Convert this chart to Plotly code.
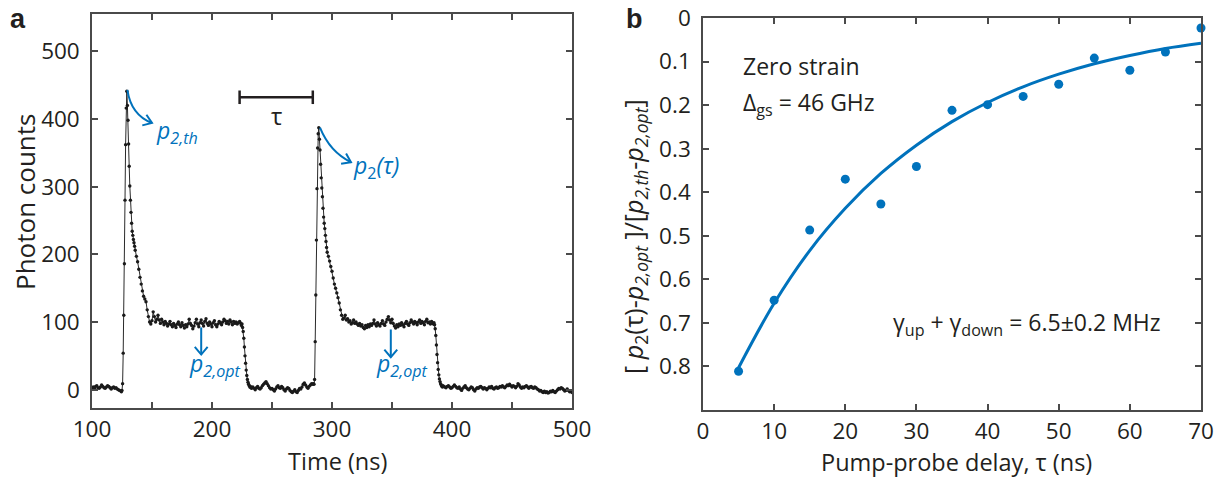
import numpy as np
import plotly.graph_objects as go

W, H = 1217, 478

# ---------------- Panel a data: photon counts vs time (ns) ----------------
# each segment: start time, sampling step, counts
baseline_a_t0, baseline_a_dt = 100.0, 1.0
baseline_a = [3, 4, 2, 5, 6, 3, 2, 4, 7, 5, 3, 2, 4, 6, 5, 3, 1, 3, 4, 2, 3, 1, 0, -1, -2]

rise_a_t0, rise_a_dt = 124.5, 0.5
rise_a = [-3, -1, 9, 54, 110, 186, 280, 362, 416, 441, 420, 398, 363, 330, 301, 280,
          262, 246, 234, 228, 222, 217, 212, 206]

plateau_a_t0, plateau_a_dt = 137.0, 1.0
plateau_a = [197, 189, 178, 166, 156, 146, 138, 134, 130, 118,
             108, 100, 97, 102, 115, 108, 100, 104, 110, 103,
             98, 104, 100, 96, 101, 98, 94, 97, 101, 96,
             93, 98, 95, 92, 97, 100, 96, 93, 99, 95,
             91, 96, 93, 97, 104, 98, 95, 90, 94, 99,
             104, 97, 93, 99, 103, 98, 94, 101, 105, 98,
             95, 100, 97, 93, 99, 102, 96, 93, 97, 101,
             99, 96, 100, 104, 102, 98, 101, 97, 103, 100,
             96, 101, 98, 100, 97, 99, 101, 98]

fall_a_t0, fall_a_dt = 224.5, 0.5
fall_a = [95, 97, 92, 86, 76, 63, 50, 39, 29, 21, 15, 11, 8, 6, 4, 5, 3, 2]

baseline_b_t0, baseline_b_dt = 234.0, 1.0
baseline_b = [4, 2, 0, 3, 5, 2, 1, 3, 6, 8,
              10, 12, 9, 6, 3, 1, 2, 0, -2, 1,
              4, 6, 3, 2, 5, 3, 0, -2, 1, 3,
              2, -1, -3, -4, -2, 0, -3, -4, -1, 2,
              1, 4, 8, 10, 7, 4, 2, 5, 7, 9,
              8]

rise_b_t0, rise_b_dt = 284.5, 0.5
rise_b = [9, 8, 15, 71, 140, 221, 297, 357, 378, 387, 370, 354, 333, 313, 298, 285,
          268, 255, 246, 238, 228, 219, 210, 203]

plateau_b_t0, plateau_b_dt = 297.0, 1.0
plateau_b = [197, 190, 182, 175, 165, 156, 150, 143, 136, 128,
             118, 110, 104, 106, 110, 103, 105, 100, 102, 97,
             99, 103, 98, 100, 97, 95, 98, 94, 96, 92,
             90, 95, 92, 96, 93, 97, 95, 98, 103, 97,
             94, 99, 96, 94, 98, 102, 97, 95, 100, 104,
             108, 103, 99, 104, 98, 94, 91, 96, 93, 97,
             95, 99, 96, 93, 98, 101, 97, 95, 99, 103,
             100, 97, 101, 99, 96, 100, 103, 98, 101, 99,
             96, 101, 104, 99, 100, 97, 101, 98]

fall_b_t0, fall_b_dt = 384.5, 0.5
fall_b = [97, 99, 96, 90, 80, 66, 52, 40, 30, 22, 16, 12, 9, 7, 5, 4, 6, 5]

baseline_c_t0, baseline_c_dt = 394.0, 1.0
baseline_c = [4, 3, 5, 6, 4, 2, 3, 5, 7, 5,
              3, 2, 4, 1, -1, 2, 4, 6, 3, 1,
              0, 2, 4, 3, 0, -2, 1, 3, 2, 4,
              5, 3, 1, 3, 2, 0, 2, 4, 3, 5,
              2, 1, 3, 4, 2, 3, 5, 4, 6, 4,
              3, 5, 7, 6, 8, 6, 4, 6, 5, 3,
              5, 9, 7, 4, 2, 4, 3, 5, 6, 4,
              2, 4, 5, 3, 2, 4, 3, 1, 0, -2,
              -1, -3, -4, -2, -4, -3, -5, -4, -2, -3,
              -1, -3, -4, -2, 0, 2, 1, 3, 2, 0,
              -2, -1, 1, -1, -3, -2, -4]

segments = [
    (baseline_a_t0, baseline_a_dt, baseline_a),
    (rise_a_t0, rise_a_dt, rise_a),
    (plateau_a_t0, plateau_a_dt, plateau_a),
    (fall_a_t0, fall_a_dt, fall_a),
    (baseline_b_t0, baseline_b_dt, baseline_b),
    (rise_b_t0, rise_b_dt, rise_b),
    (plateau_b_t0, plateau_b_dt, plateau_b),
    (fall_b_t0, fall_b_dt, fall_b),
    (baseline_c_t0, baseline_c_dt, baseline_c),
]
time_ns = np.concatenate([t0 + dt * np.arange(len(v)) for t0, dt, v in segments])
counts = np.concatenate([np.array(v, dtype=float) for _, _, v in segments])

# tau marker (ns) on panel a
tau_bar_start, tau_bar_end, tau_bar_level = 223, 284, 432

# ---------------- Panel b data ----------------
tau_ns = [5, 10, 15, 20, 25, 30, 35, 40, 45, 50, 55, 60, 65, 70]
norm_signal = [0.811, 0.648, 0.487, 0.370, 0.427, 0.341, 0.212, 0.199, 0.180,
               0.152, 0.092, 0.120, 0.078, 0.023]
fit_tau = [5, 10, 15, 20, 25, 30, 35, 40, 45, 50, 55, 60, 65, 70]
fit_curve = [0.803, 0.655, 0.534, 0.437, 0.357, 0.292, 0.238, 0.194, 0.158,
             0.129, 0.105, 0.086, 0.070, 0.058]

x_ticks_a = [100, 150, 200, 250, 300, 350, 400, 450, 500]
x_ticktext_a = ['100', '', '200', '', '300', '', '400', '', '500']
y_ticks_a = [0, 100, 200, 300, 400, 500]
x_ticks_b = [0, 10, 20, 30, 40, 50, 60, 70]
y_ticks_b = [0, 0.1, 0.2, 0.3, 0.4, 0.5, 0.6, 0.7, 0.8]
y_ticktext_b = ['0', '0.1', '0.2', '0.3', '0.4', '0.5', '0.6', '0.7', '0.8']

# ---------------- layout geometry (pixels) ----------------
A_L, A_R, A_T, A_B = 92, 572, 14, 408
B_L, B_R, B_T, B_B = 703, 1201, 18, 410
XA_RANGE = [100, 500]
YA_RANGE = [-27, 555]
XB_RANGE = [0, 70]
YB_RANGE = [0.9, 0]

BLUE = '#0072BC'
INK = '#231f20'
AXC = '#4a4a4a'
FONT = 'Open Sans'


def to_px(t, v):
    x = A_L + (t - XA_RANGE[0]) / (XA_RANGE[1] - XA_RANGE[0]) * (A_R - A_L)
    y = A_B - (v - YA_RANGE[0]) / (YA_RANGE[1] - YA_RANGE[0]) * (A_B - A_T)
    return x, y


def from_px(x, y):
    t = XA_RANGE[0] + (x - A_L) / (A_R - A_L) * (XA_RANGE[1] - XA_RANGE[0])
    v = YA_RANGE[0] + (A_B - y) / (A_B - A_T) * (YA_RANGE[1] - YA_RANGE[0])
    return t, v


def chevron(tip, frm, size=10, ang=35):
    tx, ty = to_px(*tip)
    fx, fy = to_px(*frm)
    dx, dy = fx - tx, fy - ty
    n = np.hypot(dx, dy)
    dx, dy = dx / n, dy / n
    pts = []
    for s in (1, -1):
        a = np.radians(ang) * s
        rx = dx * np.cos(a) - dy * np.sin(a)
        ry = dx * np.sin(a) + dy * np.cos(a)
        pts.append(from_px(tx + rx * size, ty + ry * size))
    (x1, y1), (x2, y2) = pts
    return f"M {x1},{y1} L {tip[0]},{tip[1]} L {x2},{y2}"


fig = go.Figure()

fig.add_trace(go.Scatter(
    x=time_ns, y=counts, mode='lines+markers',
    line=dict(color='#2a2a2a', width=1),
    marker=dict(color='#1a1a1a', size=3.4),
    xaxis='x', yaxis='y', showlegend=False, hoverinfo='skip'))

fig.add_trace(go.Scatter(
    x=fit_tau, y=fit_curve, mode='lines',
    line=dict(color=BLUE, width=3, shape='spline', smoothing=1.0),
    xaxis='x2', yaxis='y2', showlegend=False, hoverinfo='skip'))

fig.add_trace(go.Scatter(
    x=tau_ns, y=norm_signal, mode='markers',
    marker=dict(color=BLUE, size=9),
    cliponaxis=False,
    xaxis='x2', yaxis='y2', showlegend=False, hoverinfo='skip'))

shapes = []
# curved arrows in panel a
curves = [
    ((129.5, 443), (132.5, 406), (150, 394)),
    ((290, 387), (298.3, 351), (315.8, 336)),
]
for p0, c, p1 in curves:
    shapes.append(dict(type='path', xref='x', yref='y',
                       path=f"M {p0[0]},{p0[1]} Q {c[0]},{c[1]} {p1[0]},{p1[1]}",
                       line=dict(color=BLUE, width=2)))
    shapes.append(dict(type='path', xref='x', yref='y', path=chevron(p1, c),
                       line=dict(color=BLUE, width=2)))
# straight down arrows
for (tx, top, bot) in [(191, 92, 52), (349, 89, 48)]:
    shapes.append(dict(type='line', xref='x', yref='y', x0=tx, x1=tx, y0=top, y1=bot,
                       line=dict(color=BLUE, width=2)))
    shapes.append(dict(type='path', xref='x', yref='y', path=chevron((tx, bot), (tx, top), size=10, ang=40),
                       line=dict(color=BLUE, width=2)))
# tau bar
cap = 10
shapes.append(dict(type='line', xref='x', yref='y', x0=tau_bar_start, x1=tau_bar_end,
                   y0=tau_bar_level, y1=tau_bar_level, line=dict(color=INK, width=2.5)))
for xe in (tau_bar_start, tau_bar_end):
    shapes.append(dict(type='line', xref='x', yref='y', x0=xe, x1=xe,
                       y0=tau_bar_level - cap, y1=tau_bar_level + cap, line=dict(color=INK, width=2.5)))


def pxx(x):
    return x / W


def pxy(y):
    return 1 - y / H


def txt(x, y, text, size, color=INK, xanchor='center', angle=0, family=FONT, yanchor='middle'):
    return dict(xref='paper', yref='paper', x=pxx(x), y=pxy(y), xanchor=xanchor, yanchor=yanchor,
                textangle=angle, showarrow=False, text=text,
                font=dict(family=family, size=size, color=color))


ann = []
# panel a texts (data-anchored)
ann.append(dict(xref='x', yref='y', x=152, y=381, xanchor='left', yanchor='middle', showarrow=False,
                text='<i>p</i><sub><i>2,th</i></sub>', font=dict(family=FONT, size=23, color=BLUE)))
ann.append(dict(xref='x', yref='y', x=316, y=330, xanchor='left', yanchor='middle', showarrow=False,
                text='<i>p</i><sub>2</sub><i>(τ)</i>', font=dict(family=FONT, size=23, color=BLUE)))
ann.append(dict(xref='x', yref='y', x=179, y=37, xanchor='left', yanchor='middle', showarrow=False,
                text='<i>p</i><sub><i>2,opt</i></sub>', font=dict(family=FONT, size=23, color=BLUE)))
ann.append(dict(xref='x', yref='y', x=335, y=37, xanchor='left', yanchor='middle', showarrow=False,
                text='<i>p</i><sub><i>2,opt</i></sub>', font=dict(family=FONT, size=23, color=BLUE)))
ann.append(dict(xref='x', yref='y', x=(tau_bar_start + tau_bar_end) / 2, y=405, xanchor='center',
                yanchor='middle', showarrow=False,
                text='τ', font=dict(family=FONT, size=24, color=INK)))
# axis titles
ann.append(txt(25, 202, 'Photon counts', 26, angle=-90))
ann.append(txt(337, 461, 'Time (ns)', 23.5))
ann.append(txt(634, 237,
               '[ <i>p</i><sub>2</sub>(τ)-<i>p</i><sub><i>2,opt</i></sub> ]/[<i>p</i><sub><i>2,th</i></sub>-<i>p</i><sub><i>2,opt</i></sub>]',
               25, angle=-90))
ann.append(txt(956, 461.5, 'Pump-probe delay, τ (ns)', 23.5))
# panel b texts
ann.append(txt(741, 66, 'Zero strain', 23, xanchor='left'))
ann.append(txt(741, 103, 'Δ<sub>gs</sub> = 46 GHz', 23, xanchor='left'))
ann.append(txt(891, 323, 'γ<sub>up</sub> + γ<sub>down</sub> = 6.5±0.2 MHz', 23, xanchor='left'))
# panel labels
ann.append(txt(8, 2, '<b>a</b>', 27, xanchor='left', yanchor='top', family='Liberation Sans'))
ann.append(txt(624, 2, '<b>b</b>', 27, xanchor='left', yanchor='top', family='Liberation Sans'))

axis_common = dict(showgrid=False, zeroline=False, showline=True, linecolor=AXC, linewidth=1.5,
                   mirror='ticks', ticks='inside', ticklen=6, tickwidth=1.5, tickcolor=AXC,
                   automargin=False, ticklabeloverflow='allow',
                   tickfont=dict(family=FONT, size=22.5, color=INK))

fig.update_layout(
    width=W, height=H, margin=dict(l=0, r=0, t=0, b=0, autoexpand=False),
    paper_bgcolor='white', plot_bgcolor='white',
    xaxis=dict(domain=[A_L / W, A_R / W], range=XA_RANGE, anchor='y',
               tickmode='array', tickvals=x_ticks_a, ticktext=x_ticktext_a, **axis_common),
    yaxis=dict(domain=[1 - A_B / H, 1 - A_T / H], range=YA_RANGE, anchor='x',
               tickmode='array', tickvals=y_ticks_a, ticklabelstandoff=6, **axis_common),
    xaxis2=dict(domain=[B_L / W, B_R / W], range=XB_RANGE, anchor='y2',
                tickmode='array', tickvals=x_ticks_b, **axis_common),
    yaxis2=dict(domain=[1 - B_B / H, 1 - B_T / H], range=YB_RANGE, anchor='x2',
                tickmode='array', tickvals=y_ticks_b, ticktext=y_ticktext_b, ticklabelstandoff=6, **axis_common),
    shapes=shapes, annotations=ann,
)

fig.write_html('out.html')
